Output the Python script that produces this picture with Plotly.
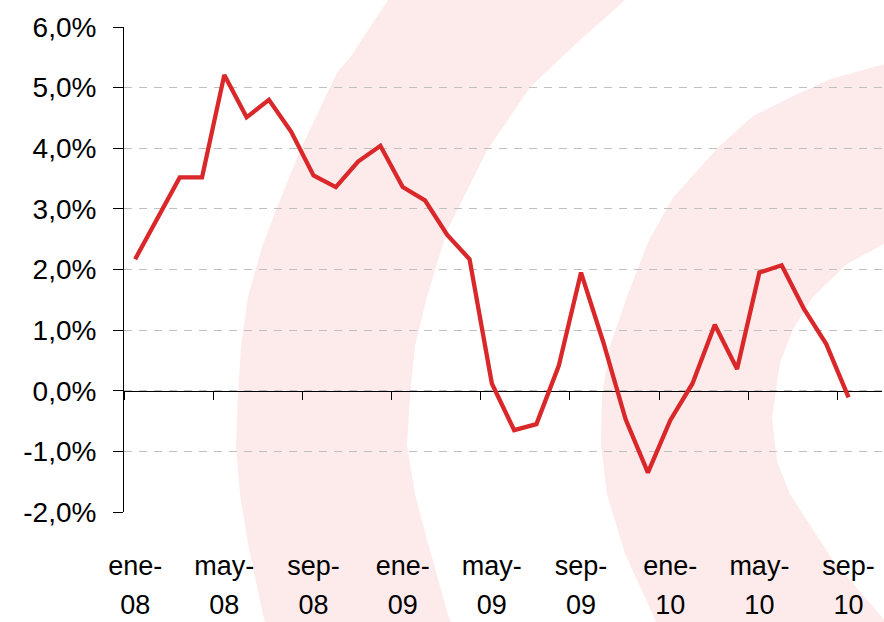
import plotly.graph_objects as go

# ---- data ----
months = ["ene-08", "feb-08", "mar-08", "abr-08", "may-08", "jun-08", "jul-08", "ago-08",
          "sep-08", "oct-08", "nov-08", "dic-08",
          "ene-09", "feb-09", "mar-09", "abr-09", "may-09", "jun-09", "jul-09", "ago-09",
          "sep-09", "oct-09", "nov-09", "dic-09",
          "ene-10", "feb-10", "mar-10", "abr-10", "may-10", "jun-10", "jul-10", "ago-10",
          "sep-10"]
values = [2.17, 2.85, 3.52, 3.52, 5.21, 4.51, 4.80, 4.27,
          3.55, 3.36, 3.78, 4.04,
          3.36, 3.14, 2.57, 2.17, 0.12, -0.65, -0.55, 0.41,
          1.95, 0.80, -0.47, -1.35,
          -0.49, 0.12, 1.09, 0.36, 1.95, 2.07, 1.35, 0.77,
          -0.11]
x_tick_idx = [0, 4, 8, 12, 16, 20, 24, 28, 32]
x_tick_month = ["ene-", "may-", "sep-", "ene-", "may-", "sep-", "ene-", "may-", "sep-"]
x_tick_year = ["08", "08", "08", "09", "09", "09", "10", "10", "10"]
y_tick_vals = [-2, -1, 0, 1, 2, 3, 4, 5, 6]
y_tick_text = ["-2,0%", "-1,0%", "0,0%", "1,0%", "2,0%", "3,0%", "4,0%", "5,0%", "6,0%"]

# ---- layout geometry (pixels) ----
W, H = 884, 622
L, R, T, B = 124, 2, 27, 104
pw, ph = W - L - R, H - T - B
n_slots = len(months) + 1
x_range = [-0.5, n_slots - 0.5]

xs = list(range(len(months)))

def to_paper(pts):
    return [((px - L) / pw, (H - B - py) / ph) for px, py in pts]

def path_from(pts):
    pp = to_paper(pts)
    s = "M %.4f,%.4f " % pp[0]
    for p in pp[1:]:
        s += "L %.4f,%.4f " % p
    return s + "Z"

# decorative background arcs (pixel outlines)
band1 = [(396, -12), (388, 0), (350, 58), (337, 73), (300, 152), (277, 210), (262, 250),
         (248, 300), (241, 350), (238, 400), (236, 450), (240, 500), (248, 550), (263, 622),
         (268, 640),
         (455, 640), (448, 622), (428, 550), (415, 500), (407, 450), (410, 400), (415, 350),
         (427, 300), (447, 233), (487, 152), (530, 88), (577, 43), (625, 0), (640, -12)]
band2 = [(900, 60), (883, 65), (830, 80), (787, 100), (753, 117), (717, 150), (673, 200),
         (648, 245), (627, 300), (610, 350), (602, 400), (601, 450), (607, 500), (625, 560),
         (653, 622), (660, 640),
         (895, 640), (880, 622), (833, 567), (790, 500), (777, 467), (772, 423), (780, 367),
         (793, 333), (813, 300), (847, 267), (883, 247), (900, 242)]

shapes = []
for band in (band1, band2):
    shapes.append(dict(type="path", xref="paper", yref="paper", path=path_from(band),
                       fillcolor="#fdeaea", line=dict(width=0), layer="below"))

fig = go.Figure()
# helper traces to instantiate the extra axes (invisible)
for ax in ("x2", "x3"):
    fig.add_trace(go.Scatter(x=xs, y=values, xaxis=ax, yaxis="y", mode="lines",
                             line=dict(width=0, color="rgba(0,0,0,0)"),
                             hoverinfo="skip", showlegend=False))
fig.add_trace(go.Scatter(x=xs, y=values, xaxis="x", yaxis="y", mode="lines",
                         line=dict(color="#d9272a", width=4.3), showlegend=False))

font_family = "Liberation Sans, Arial, sans-serif"
common_x = dict(range=x_range, tickmode="array", tickvals=x_tick_idx, showgrid=False,
                zeroline=False, showline=False, ticks="")
fig.update_layout(
    width=W, height=H,
    margin=dict(l=L, r=R, t=T, b=B, pad=0),
    paper_bgcolor="white",
    plot_bgcolor="rgba(0,0,0,0)",
    showlegend=False,
    shapes=shapes,
    font=dict(family=font_family, color="black"),
    xaxis=dict(**common_x, ticktext=x_tick_month,
               tickfont=dict(size=27, family=font_family), ticklabelstandoff=35),
    xaxis3=dict(**common_x, ticktext=x_tick_year, overlaying="x", anchor="free", position=0,
                side="bottom", tickfont=dict(size=27, family=font_family),
                ticklabelstandoff=74),
    xaxis2=dict(range=x_range, overlaying="x", anchor="free", position=0.25, side="bottom",
                tickmode="array", tickvals=[i - 0.5 for i in range(0, n_slots, 4)],
                showticklabels=False, ticks="outside", ticklen=8, tickcolor="black",
                showline=True, linecolor="black", linewidth=1, showgrid=False,
                zeroline=False, layer="below traces"),
    yaxis=dict(range=[-2, 6], tickmode="array", tickvals=y_tick_vals, ticktext=y_tick_text,
               showline=True, linecolor="black", linewidth=1, ticks="outside", ticklen=10,
               tickcolor="black", showgrid=True, gridcolor="#c0c0c0", gridwidth=1,
               griddash="8px,7px", zeroline=False, layer="below traces",
               tickfont=dict(size=28, family=font_family), ticklabelstandoff=11),
)

fig.write_html("out.html", config={"displayModeBar": False},
               post_script="document.body.style.margin='0';document.body.style.overflow='hidden';")
